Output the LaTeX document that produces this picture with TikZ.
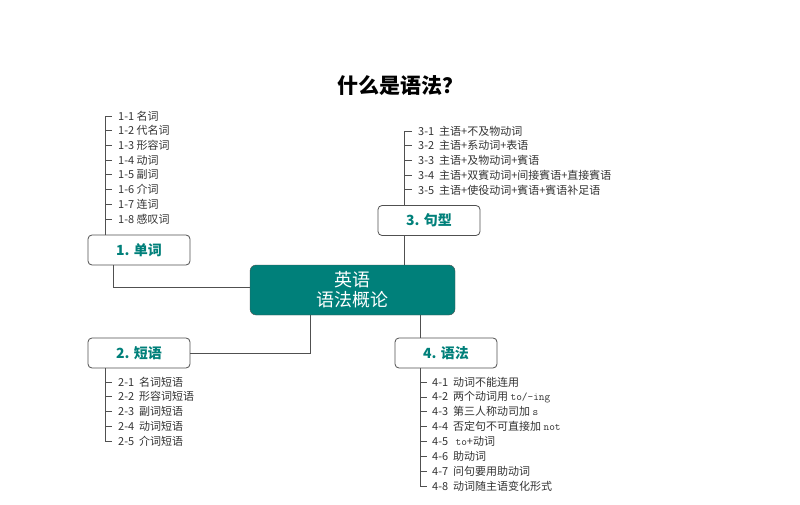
\documentclass[tikz,border=0pt]{standalone}
\usepackage{fontspec}
\setmainfont{Noto Sans CJK SC}
\definecolor{teal1}{RGB}{0,128,122}
\definecolor{ln}{RGB}{80,80,80}
\begin{document}
\begin{tikzpicture}[x=1pt,y=-1pt,
  cat/.style={draw=ln,line width=0.8pt,rounded corners=4pt,minimum width=102pt,minimum height=30pt,fill=white,text=teal1,font=\bfseries\fontsize{14}{16}\selectfont},
  item/.style={anchor=west,inner sep=0pt,text=black!80,font=\fontsize{11}{13}\selectfont},
  wire/.style={draw=ln,line width=0.7pt}]
\useasboundingbox (0,0) rectangle (800,505);
\node[font=\bfseries\fontsize{21}{24}\selectfont] (t) at (400,86) {什么是语法？};
\node[draw=ln,fill=teal1,rounded corners=6pt,minimum width=205pt,minimum height=50pt,text=white,align=center,font=\fontsize{18}{20}\selectfont] (c) at (352.5,290) {英语\\语法概论};
\node[cat] (b1) at (139,250) {1. 单词};
\node[cat] (b3) at (429,220.5) {3. 句型};
\node[cat] (b2) at (139,353) {2. 短语};
\node[cat] (b4) at (446,353) {4. 语法};
\draw[wire] (c.west |- 0,287) -| (b1.south -| 113,0);
\draw[wire] (404,265) -- (404,235);
\draw[wire] (310,315) |- (b2.east);
\draw[wire] (420,315) -- (420,338);
% group 1
\draw[wire] (105,235) -- (105,116);
\foreach \t [count=\i] in {1-1 名词,1-2 代名词,1-3 形容词,1-4 动词,1-5 副词,1-6 介词,1-7 连词,1-8 感叹词}{
  \pgfmathsetmacro\yy{116+(\i-1)*14.7}
  \draw[wire] (105,\yy) -- (112,\yy);
  \node[item] (a\i) at (118,\yy) {\t};}
% group 3
\draw[wire] (404,206) -- (404,131);
\foreach \t [count=\i] in {3-1\ \ 主语+不及物动词,3-2\ \ 主语+系动词+表语,3-3\ \ 主语+及物动词+賓语,3-4\ \ 主语+双賓动词+间接賓语+直接賓语,3-5\ \ 主语+使役动词+賓语+賓语补足语}{
  \pgfmathsetmacro\yy{131+(\i-1)*14.7}
  \draw[wire] (404,\yy) -- (412,\yy);
  \node[item] (c\i) at (418,\yy) {\t};}
% group 2
\draw[wire] (105,368) -- (105,441);
\foreach \t [count=\i] in {2-1\ \ 名词短语,2-2\ \ 形容词短语,2-3\ \ 副词短语,2-4\ \ 动词短语,2-5\ \ 介词短语}{
  \pgfmathsetmacro\yy{382+(\i-1)*14.75}
  \draw[wire] (105,\yy) -- (112,\yy);
  \node[item] (d\i) at (118,\yy) {\t};}
% group 4
\draw[wire] (420,368) -- (420,486);
\foreach \t [count=\i] in {4-1\ \ 动词不能连用,4-2\ \ 两个动词用 {\ttfamily to/-ing},4-3\ \ 第三人称动司加 {\ttfamily s},4-4\ \ 否定句不可直接加 {\ttfamily not},4-5\ \ \ {\ttfamily to}+动词,4-6\ \ 助动词,4-7\ \ 问句要用助动词,4-8\ \ 动词随主语变化形式}{
  \pgfmathsetmacro\yy{382+(\i-1)*14.85}
  \draw[wire] (420,\yy) -- (427,\yy);
  \node[item] (e\i) at (432,\yy) {\t};}
\end{tikzpicture}
\end{document}
